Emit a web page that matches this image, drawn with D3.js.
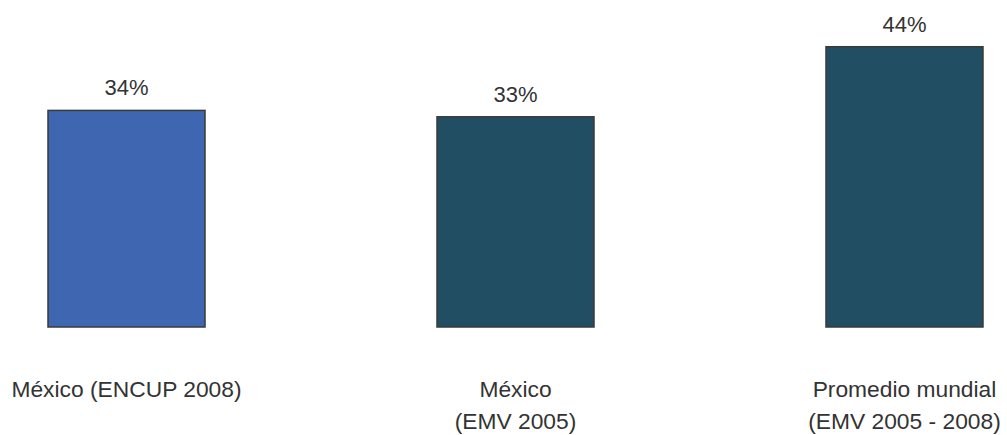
<!DOCTYPE html>
<html>
<head>
<meta charset="utf-8">
<script src="https://cdn.jsdelivr.net/npm/d3@7"></script>
<style>
  html, body { margin: 0; padding: 0; background: #ffffff; }
  svg { display: block; }
  text { font-family: "Liberation Sans", Arial, Helvetica, sans-serif; fill: #333333; }
</style>
</head>
<body>
<svg id="chart" width="1007" height="435"></svg>
<script>
const categories = ["México (ENCUP 2008)", "México (EMV 2005)", "Promedio mundial (EMV 2005 - 2008)"];
const categoryLines = [["México (ENCUP 2008)"], ["México", "(EMV 2005)"], ["Promedio mundial", "(EMV 2005 - 2008)"]];
const values = [34, 33, 44];
const valueLabels = ["34%", "33%", "44%"];
const barColors = ["#3F67B1", "#214E63", "#214E63"];

const svg = d3.select("#chart");
const x = d3.scaleBand().domain(categories).range([0, 1031]).paddingInner(0.5964).paddingOuter(0.1234);
const y = d3.scaleLinear().domain([0, 50]).range([327, 8.5]);

svg.selectAll("rect.bar").data(values).join("rect")
  .attr("class", "bar")
  .attr("x", (d, i) => x(categories[i]))
  .attr("width", x.bandwidth())
  .attr("y", d => y(d))
  .attr("height", d => y(0) - y(d))
  .attr("fill", (d, i) => barColors[i])
  .attr("stroke", "#3a3a3a")
  .attr("stroke-width", 1.5);

svg.selectAll("text.val").data(values).join("text")
  .attr("class", "val")
  .attr("x", (d, i) => x(categories[i]) + x.bandwidth() / 2)
  .attr("y", d => y(d) - 15)
  .attr("text-anchor", "middle")
  .attr("font-size", 22)
  .text((d, i) => valueLabels[i]);

const cat = svg.selectAll("text.cat").data(categoryLines).join("text")
  .attr("class", "cat")
  .attr("text-anchor", "middle")
  .attr("font-size", 22.8);
cat.each(function(lines, i) {
  const cx = x(categories[i]) + x.bandwidth() / 2;
  d3.select(this).selectAll("tspan").data(lines).join("tspan")
    .attr("x", cx)
    .attr("y", (l, j) => 397 + j * 32)
    .text(l => l);
});
</script>
</body>
</html>
